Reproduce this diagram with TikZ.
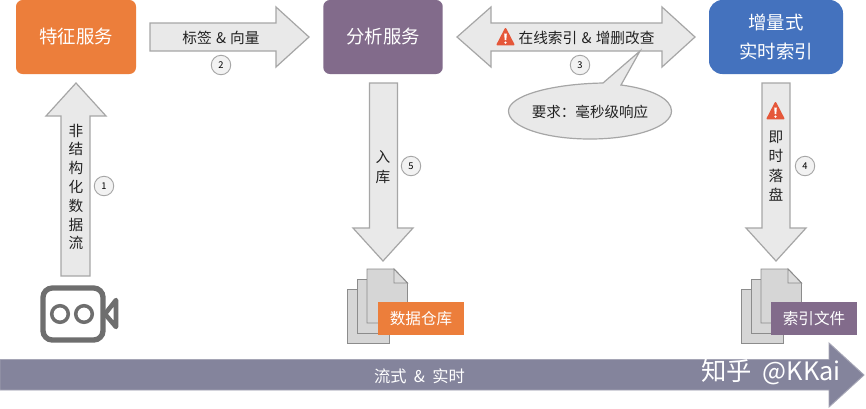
\documentclass[tikz,border=0pt]{standalone}
\usepackage{fontspec}
\setmainfont{Noto Sans CJK SC}
\usetikzlibrary{shapes.geometric}
\definecolor{cOrange}{HTML}{EC7E3B}
\definecolor{cPurple}{HTML}{826B8B}
\definecolor{cBlue}{HTML}{4472BE}
\definecolor{cBand}{HTML}{84849C}
\definecolor{cBandLine}{HTML}{A5A5B5}
\definecolor{cArrow}{HTML}{E9E9E9}
\definecolor{cArrowLine}{HTML}{A6A6A6}
\definecolor{cPage}{HTML}{D6D6D6}
\definecolor{cPageLine}{HTML}{8C8C8C}
\definecolor{cCam}{HTML}{6E6E6E}
\definecolor{cWarn}{HTML}{E5573A}
\definecolor{cInk}{HTML}{222222}
\newcommand{\fpx}[1]{\fontsize{#1}{#1}\selectfont}
\newcommand{\dn}[1]{\raisebox{-0.9pt}{#1}}
\newcommand{\amp}{\hspace{3.2pt}\&\hspace{3.2pt}}
\tikzset{
  svc/.style={inner sep=0pt,text=white,align=center},
  blockarrow/.style={draw=cArrowLine,fill=cArrow,line width=0.9pt,line join=miter},
  lbl/.style={inner sep=0pt,text=cInk,font=\fpx{11}},
  vlbl/.style={inner sep=0pt,text=cInk,align=center,font=\fontsize{11}{14.1}\selectfont},
  num/.style={circle,draw=cArrowLine,fill=cArrow!60!white,line width=0.7pt,minimum size=14.6pt,inner sep=0pt,text=black,font=\fpx{7}},
  page/.style={draw=cPageLine,fill=cPage,line width=0.7pt},
  tag/.style={inner sep=0pt,minimum width=64.9pt,minimum height=24.8pt,text=white,font=\fpx{11.7}},
}
\newcommand{\warnicon}[2]{%
  \fill[cWarn,draw=cWarn,line width=1.4pt,line join=round] (#1,#2-8) -- (#1+8,#2+7.5) -- (#1-8,#2+7.5) -- cycle;
  \fill[white] (#1-1.3,#2-3.5) -- (#1+1.3,#2-3.5) -- (#1+0.8,#2+3) -- (#1-0.8,#2+3) -- cycle;
  \fill[white] (#1,#2+5.6) circle (1.3);
}
\newcommand{\docstack}[1]{%
  \begin{scope}[shift={(#1,0)}]
    \draw[page] (0,289) -- (42,289) -- (42,343) -- (0,343) -- cycle;
    \draw[page] (10,279) -- (52,279) -- (52,333) -- (10,333) -- cycle;
    \draw[page] (20,269) -- (47,269) -- (60.5,283) -- (60.5,323) -- (20,323) -- cycle;
    \draw[page,fill=cPage!85!white] (47,269) -- (60.5,283) -- (47,283) -- cycle;
  \end{scope}
}
\begin{document}
\begin{tikzpicture}[x=0.75pt,y=-0.75pt]
\useasboundingbox (0,0) rectangle (866,408);
\fill[white] (0,0) rectangle (866,408);

% service boxes
\node[svc,fill=cOrange,rounded corners=5pt,minimum width=90pt,minimum height=55.5pt,font=\fpx{13.8}] (feat) at (76,37) {\dn{特征服务}};
\node[svc,fill=cPurple,rounded corners=5pt,minimum width=89.6pt,minimum height=55.5pt,font=\fpx{13.8}] (ana) at (383,37) {\dn{分析服务}};
\node[svc,fill=cBlue,rounded corners=10pt,minimum width=100.5pt,minimum height=55.5pt,font=\fontsize{13.8}{21.5}\selectfont] (inc) at (776,37) {\dn{\parbox{90pt}{\centering 增量式\\实时索引}}};

% block arrows
\draw[blockarrow] (150,23) -- (276,23) -- (276,7) -- (309,37) -- (276,67) -- (276,51) -- (150,51) -- cycle;
\draw[blockarrow] (457,37) -- (491,7) -- (491,23) -- (662,23) -- (662,7) -- (695,37) -- (662,67) -- (662,51) -- (491,51) -- (491,67) -- cycle;
\draw[blockarrow] (76,83) -- (106,116) -- (90,116) -- (90,276) -- (61,276) -- (61,116) -- (46,116) -- cycle;
\draw[blockarrow] (369.5,83) -- (397.5,83) -- (397.5,228) -- (413,228) -- (383,261) -- (353,228) -- (369.5,228) -- cycle;
\draw[blockarrow] (762,83) -- (790,83) -- (790,228) -- (806,228) -- (776,261) -- (746,228) -- (762,228) -- cycle;

% callout
\draw[blockarrow] (603,83) -- (640,51) -- (621,85)
  .. controls (652,89) and (671.5,99) .. (671.5,111)
  .. controls (671.5,127) and (635,139) .. (590,139)
  .. controls (545,139) and (508.5,127) .. (508.5,111)
  .. controls (508.5,96) and (550,84) .. (603,83) -- cycle;
\node[lbl,font=\fpx{10.9}] (req) at (590,111.5) {要求：毫秒级响应};

% arrow labels
\node[lbl] (l2) at (221,38) {标签\amp 向量};
\warnicon{505.5}{37}
\node[lbl] (l3) at (586.5,38) {在线索引\amp 增删改查};
\node[vlbl] (l1) at (76,187) {非\\结\\构\\化\\数\\据\\流};
\node[vlbl,font=\fontsize{11}{15}\selectfont] (l5) at (383,167) {入\\库};
\warnicon{775.5}{111}
\node[vlbl,font=\fontsize{11}{14.6}\selectfont] (l4) at (776,166) {即\\时\\落\\盘};

% numbers
\node[num] (n1) at (104,186) {1};
\node[num] (n2) at (221,65) {2};
\node[num] (n3) at (580,65) {3};
\node[num] (n4) at (805,166) {4};
\node[num] (n5) at (411,166) {5};

% camera
\draw[cCam,line width=4pt,rounded corners=7pt] (43,288) rectangle (103,340);
\draw[cCam,line width=2.6pt] (60,314) circle (8.3);
\draw[cCam,line width=2.6pt] (84,314) circle (8.3);
\draw[cCam,line width=3.4pt,line join=round] (105,314) -- (116,300) -- (116,327) -- cycle;

% documents
\docstack{347}
\node[tag,fill=cOrange] (t1) at (421,318.5) {数据仓库};
\docstack{741}
\node[tag,fill=cPurple] (t2) at (814,318.5) {索引文件};

% timeline band
\draw[draw=cBandLine,line width=0.7pt,fill=cBand] (0,359.5) -- (829,359.5) -- (829,343) -- (864,375) -- (829,407) -- (829,390) -- (0,390) -- cycle;
\node[inner sep=0pt,text=white,font=\fpx{12.2}] (flow) at (419.5,376) {流式\hspace{5.5pt}\&\hspace{5.5pt}实时};
\node[inner sep=0pt,text=white,font=\fpx{19}] (mark) at (771,372.5) {知乎\hspace{8pt}@KKai};
\end{tikzpicture}
\end{document}
